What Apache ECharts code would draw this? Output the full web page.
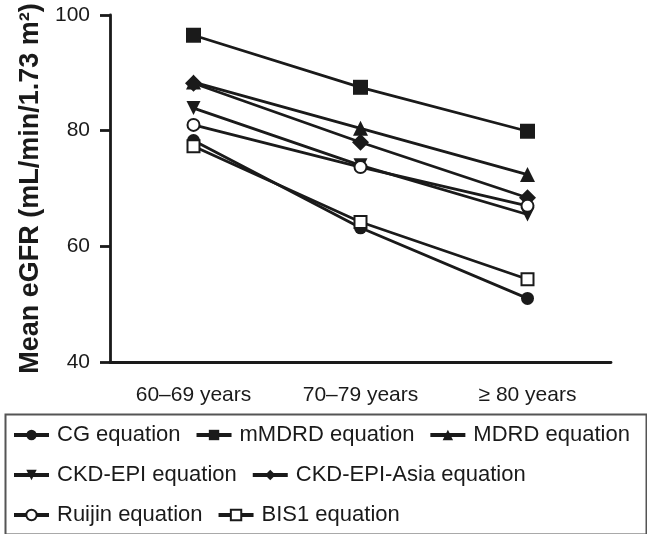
<!DOCTYPE html>
<html>
<head>
<meta charset="utf-8">
<script src="https://cdn.jsdelivr.net/npm/echarts@6/dist/echarts.min.js"></script>
<style>
html,body{margin:0;padding:0;background:#fff;}
#chart{width:647px;height:534px;}
</style>
</head>
<body>
<div id="chart"></div>
<script>
var categories = ['60\u201369 years', '70\u201379 years', '\u2265 80 years'];
var yTicks = [40, 60, 80, 100];
var seriesNames = ['CG equation', 'mMDRD equation', 'MDRD equation', 'CKD-EPI equation', 'CKD-EPI-Asia equation', 'Ruijin equation', 'BIS1 equation'];
var cgValues = [78.3, 63.2, 51.0];
var mmdrdValues = [96.5, 87.5, 79.9];
var mdrdValues = [88.4, 80.4, 72.4];
var ckdepiValues = [83.9, 74.0, 65.5];
var ckdepiAsiaValues = [88.2, 78.0, 68.4];
var ruijinValues = [81.0, 73.7, 67.0];
var bis1Values = [77.3, 64.2, 54.3];

var FONT = "'Liberation Sans', Arial, Helvetica, sans-serif";
var INK = '#1a1a1a';

function mk(name, data, symbol, size, opts) {
  var s = {
    name: name,
    type: 'line',
    data: data,
    symbol: symbol,
    symbolSize: size,
    lineStyle: { color: INK, width: 2.8 },
    itemStyle: { color: INK, borderColor: INK, borderWidth: 0 },
    emphasis: { disabled: true },
    animation: false
  };
  if (opts) { for (var k in opts) s[k] = opts[k]; }
  return s;
}

var series = [
  mk(seriesNames[0], cgValues, 'circle', 13),
  mk(seriesNames[1], mmdrdValues, 'rect', 15),
  mk(seriesNames[2], mdrdValues, 'triangle', 15),
  mk(seriesNames[3], ckdepiValues, 'triangle', 14, { symbolRotate: 180 }),
  mk(seriesNames[4], ckdepiAsiaValues, 'diamond', 17),
  mk(seriesNames[5], ruijinValues, 'emptyCircle', 12, { itemStyle: { color: INK, borderColor: INK, borderWidth: 2.5 } }),
  mk(seriesNames[6], bis1Values, 'emptyRect', 12, { itemStyle: { color: INK, borderColor: INK, borderWidth: 2.5 } })
];

function legendRow(names, top) {
  return {
    data: names,
    left: 12,
    top: top,
    orient: 'horizontal',
    itemWidth: 35,
    itemHeight: 13,
    itemGap: 14,
    padding: 0,
    selectedMode: false,
    lineStyle: { width: 4 },
    textStyle: { fontFamily: FONT, fontSize: 22, color: INK, padding: [0, 0, 0, 3] }
  };
}

var chart = echarts.init(document.getElementById('chart'), null, { renderer: 'canvas' });
chart.setOption({
  animation: false,
  backgroundColor: '#fff',
  grid: { left: 110, right: 36, top: 15, bottom: 172, containLabel: false },
  xAxis: {
    type: 'category',
    data: categories,
    boundaryGap: true,
    axisLine: { lineStyle: { color: INK, width: 2.8 } },
    axisTick: { alignWithLabel: true, length: 10, lineStyle: { color: INK, width: 2.8 } },
    axisLabel: { fontFamily: FONT, fontSize: 21, color: INK, margin: 23 },
    splitLine: { show: false }
  },
  yAxis: {
    type: 'value',
    min: yTicks[0],
    max: yTicks[yTicks.length - 1],
    interval: 20,
    name: 'Mean eGFR (mL/min/1.73 m\u00B2)',
    nameLocation: 'middle',
    nameGap: 66,
    nameTextStyle: { fontFamily: FONT, fontSize: 27, fontWeight: 'bold', color: INK },
    axisLine: { show: true, lineStyle: { color: INK, width: 2.8 } },
    axisTick: { show: true, length: 10, lineStyle: { color: INK, width: 2.8 } },
    axisLabel: { fontFamily: FONT, fontSize: 21, color: INK, margin: 20 },
    splitLine: { show: false }
  },
  legend: [
    legendRow(seriesNames.slice(0, 3), 424),
    legendRow(seriesNames.slice(3, 5), 464),
    legendRow(seriesNames.slice(5, 7), 504)
  ],
  graphic: [{
    type: 'rect',
    left: 3,
    top: 412,
    shape: { width: 641, height: 120 },
    style: { fill: 'none', stroke: '#555', lineWidth: 2 },
    silent: true
  }],
  series: series
});
</script>
</body>
</html>
